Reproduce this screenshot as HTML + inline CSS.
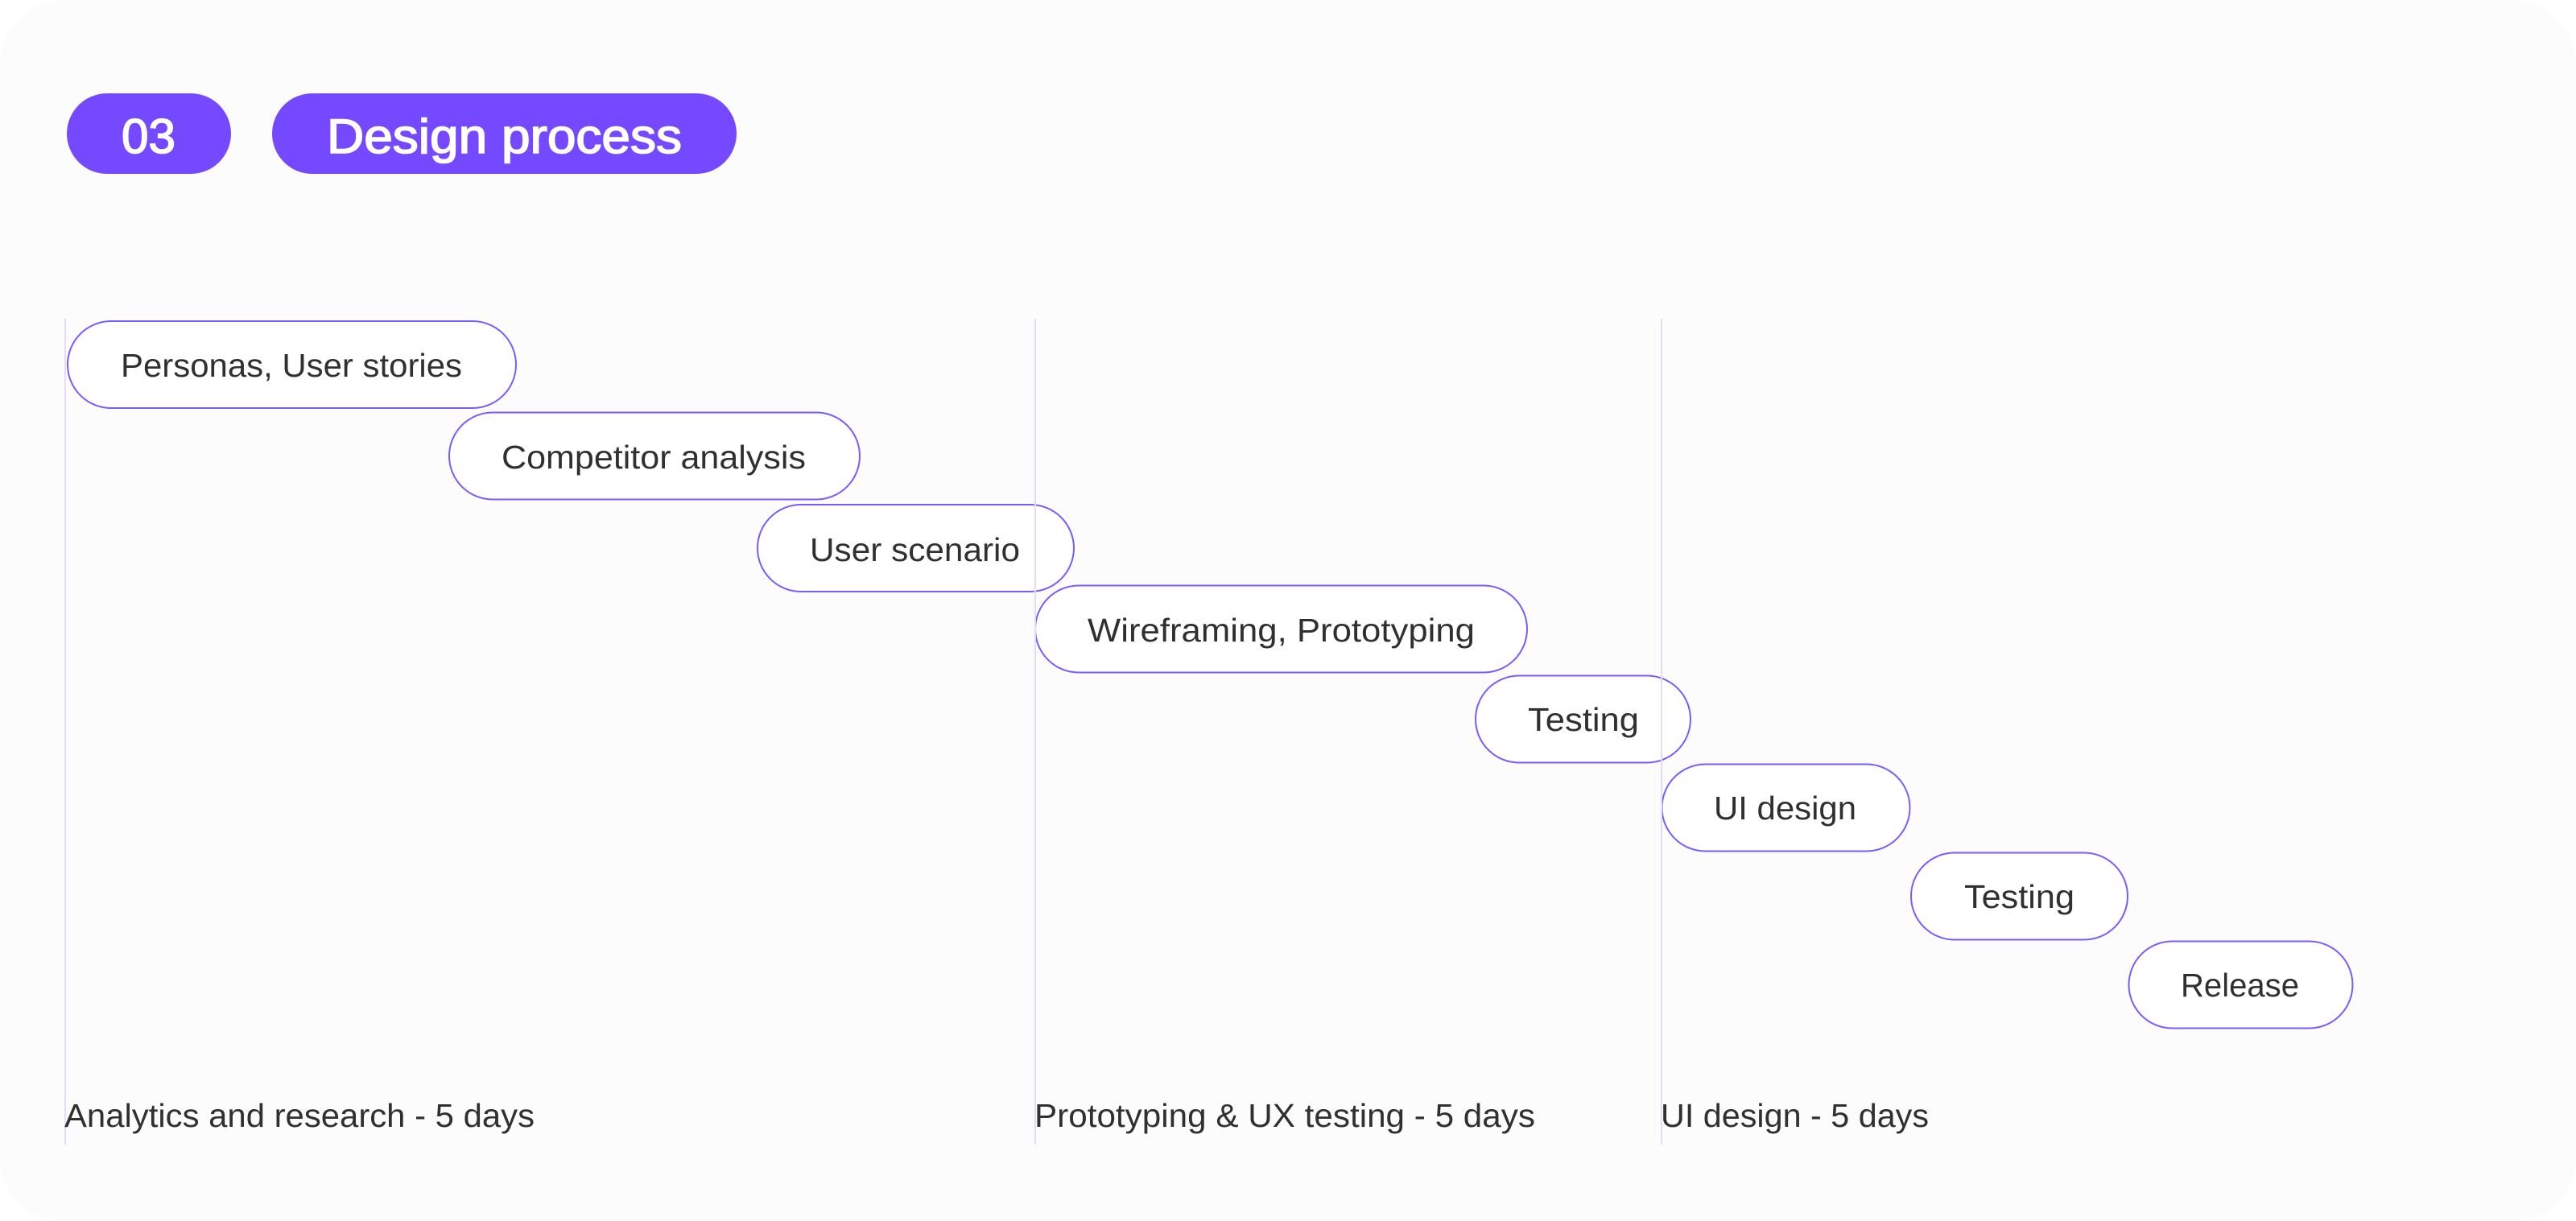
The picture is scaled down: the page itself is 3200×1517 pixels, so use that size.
<!DOCTYPE html>
<html><head><meta charset="utf-8"><style>
html,body{margin:0;padding:0;background:#fff}
svg{display:block}
text{font-family:"Liberation Sans",sans-serif;fill:#303030;font-size:41px}
.p{fill:#fff;stroke:#7a5bff;stroke-width:2}
.l{fill:#e0deff}
.w{fill:#fff;stroke:#fff;stroke-width:1.6;font-size:60px}
</style></head><body>
<svg width="3200" height="1517" viewBox="0 0 3200 1517" xmlns="http://www.w3.org/2000/svg">
<rect x="0" y="0" width="3200" height="1517" rx="78" ry="78" fill="#fcfcfc"/>
<rect x="83" y="116" width="204" height="100" rx="50" fill="#7549ff"/>
<rect x="338" y="116" width="577" height="100" rx="50" fill="#7549ff"/>
<text class="w" x="151" y="190" textLength="67" lengthAdjust="spacingAndGlyphs">03</text>
<text class="w" x="406" y="190" textLength="441" lengthAdjust="spacingAndGlyphs">Design process</text>

<rect class="p" x="84" y="399" width="557" height="108" rx="54"/>
<rect class="p" x="558" y="512.5" width="510" height="108" rx="54"/>
<rect class="p" x="941" y="627" width="393" height="108" rx="54"/>
<rect class="p" x="1286" y="727.5" width="611" height="108" rx="54"/>
<rect class="p" x="1833" y="839.5" width="267" height="108" rx="54"/>
<rect class="p" x="2064.5" y="949.5" width="308" height="108" rx="54"/>
<rect class="p" x="2374" y="1059.5" width="269" height="108" rx="54"/>
<rect class="p" x="2644.5" y="1169.5" width="278" height="108" rx="54"/>

<rect class="l" x="80" y="396" width="2" height="1026"/>
<rect class="l" x="1285" y="396" width="2" height="1026"/>
<rect class="l" x="2063" y="396" width="2" height="1026"/>

<text x="150" y="468" textLength="424" lengthAdjust="spacingAndGlyphs">Personas, User stories</text>
<text x="623" y="582" textLength="378" lengthAdjust="spacingAndGlyphs">Competitor analysis</text>
<text x="1006" y="697" textLength="261" lengthAdjust="spacingAndGlyphs">User scenario</text>
<text x="1351" y="797" textLength="481" lengthAdjust="spacingAndGlyphs">Wireframing, Prototyping</text>
<text x="1898" y="908" textLength="138" lengthAdjust="spacingAndGlyphs">Testing</text>
<text x="2129" y="1018" textLength="177" lengthAdjust="spacingAndGlyphs">UI design</text>
<text x="2440" y="1128" textLength="137" lengthAdjust="spacingAndGlyphs">Testing</text>
<text x="2709" y="1238" textLength="147" lengthAdjust="spacingAndGlyphs">Release</text>

<text x="80" y="1400" textLength="584" lengthAdjust="spacingAndGlyphs">Analytics and research - 5 days</text>
<text x="1285" y="1400" textLength="622" lengthAdjust="spacingAndGlyphs">Prototyping &amp; UX testing - 5 days</text>
<text x="2063" y="1400" textLength="333" lengthAdjust="spacingAndGlyphs">UI design - 5 days</text>
</svg>
</body></html>
